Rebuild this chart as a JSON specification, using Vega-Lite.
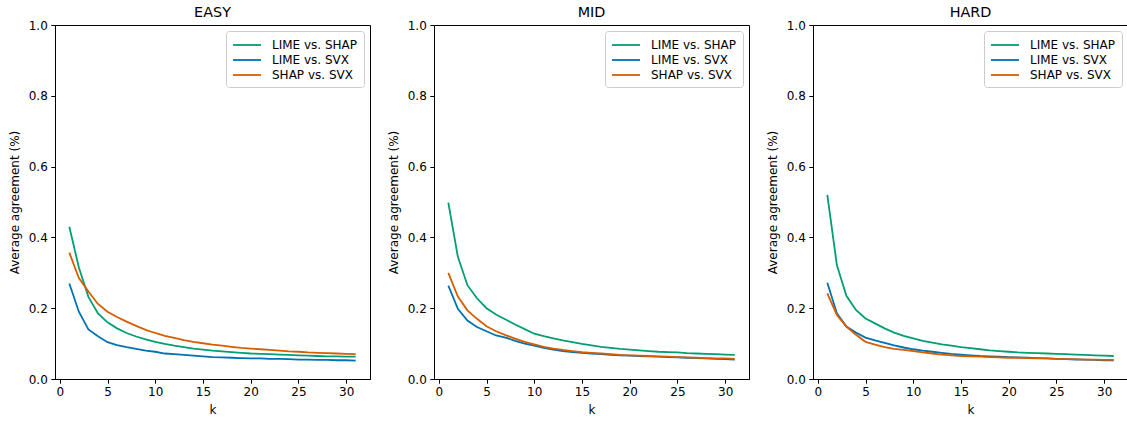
{
  "$schema": "https://vega.github.io/schema/vega-lite/v6.json",
  "padding": {"left": 7, "top": 4, "right": 0, "bottom": 0},
  "config": {
    "font": "DejaVu Sans",
    "view": {"stroke": "black", "strokeWidth": 1},
    "axis": {"grid": false, "domainColor": "black", "domainWidth": 1, "tickColor": "black", "tickWidth": 1, "tickSize": 4.2, "labelPadding": 3.5, "labelFontSize": 12, "labelColor": "black", "labelFont": "DejaVu Sans", "titleFont": "DejaVu Sans", "titleFontSize": 12, "titleFontWeight": "normal", "titleColor": "black"},
    "axisX": {"titlePadding": 7, "titleColor": "black"},
    "axisY": {"titlePadding": 7, "titleColor": "black"},
    "title": {"fontSize": 14.4, "fontWeight": "normal", "font": "DejaVu Sans", "color": "black", "offset": -1},
    "legend": {"orient": "top-right", "offset": 6, "title": null, "symbolType": "M-1,0H3", "symbolSize": 196, "symbolStrokeWidth": 1.8, "labelFontSize": 12, "labelFont": "DejaVu Sans", "labelColor": "black", "labelOffset": 24, "rowPadding": 1, "padding": 6, "fillColor": "white", "strokeColor": "#cccccc", "cornerRadius": 3}
  },
  "data": {"values": [
    {"d":"EASY","k":1,"a":0.43,"b":0.27,"c":0.357},
    {"d":"EASY","k":2,"a":0.315,"b":0.19,"c":0.285},
    {"d":"EASY","k":3,"a":0.232,"b":0.14,"c":0.247},
    {"d":"EASY","k":4,"a":0.185,"b":0.121,"c":0.212},
    {"d":"EASY","k":5,"a":0.16,"b":0.104,"c":0.19},
    {"d":"EASY","k":6,"a":0.143,"b":0.096,"c":0.175},
    {"d":"EASY","k":7,"a":0.13,"b":0.09,"c":0.162},
    {"d":"EASY","k":8,"a":0.12,"b":0.085,"c":0.15},
    {"d":"EASY","k":9,"a":0.112,"b":0.08,"c":0.139},
    {"d":"EASY","k":10,"a":0.105,"b":0.077,"c":0.13},
    {"d":"EASY","k":11,"a":0.099,"b":0.072,"c":0.122},
    {"d":"EASY","k":12,"a":0.094,"b":0.07,"c":0.116},
    {"d":"EASY","k":13,"a":0.09,"b":0.068,"c":0.11},
    {"d":"EASY","k":14,"a":0.086,"b":0.066,"c":0.105},
    {"d":"EASY","k":15,"a":0.083,"b":0.064,"c":0.101},
    {"d":"EASY","k":16,"a":0.08,"b":0.062,"c":0.097},
    {"d":"EASY","k":17,"a":0.078,"b":0.061,"c":0.094},
    {"d":"EASY","k":18,"a":0.076,"b":0.06,"c":0.091},
    {"d":"EASY","k":19,"a":0.074,"b":0.059,"c":0.088},
    {"d":"EASY","k":20,"a":0.072,"b":0.058,"c":0.086},
    {"d":"EASY","k":21,"a":0.071,"b":0.058,"c":0.084},
    {"d":"EASY","k":22,"a":0.07,"b":0.057,"c":0.082},
    {"d":"EASY","k":23,"a":0.069,"b":0.057,"c":0.08},
    {"d":"EASY","k":24,"a":0.068,"b":0.056,"c":0.078},
    {"d":"EASY","k":25,"a":0.067,"b":0.055,"c":0.077},
    {"d":"EASY","k":26,"a":0.066,"b":0.055,"c":0.075},
    {"d":"EASY","k":27,"a":0.065,"b":0.054,"c":0.074},
    {"d":"EASY","k":28,"a":0.064,"b":0.054,"c":0.073},
    {"d":"EASY","k":29,"a":0.064,"b":0.053,"c":0.072},
    {"d":"EASY","k":30,"a":0.063,"b":0.053,"c":0.071},
    {"d":"EASY","k":31,"a":0.063,"b":0.052,"c":0.07},
    {"d":"MID","k":1,"a":0.498,"b":0.264,"c":0.3},
    {"d":"MID","k":2,"a":0.345,"b":0.198,"c":0.233},
    {"d":"MID","k":3,"a":0.265,"b":0.165,"c":0.194},
    {"d":"MID","k":4,"a":0.228,"b":0.147,"c":0.17},
    {"d":"MID","k":5,"a":0.2,"b":0.135,"c":0.149},
    {"d":"MID","k":6,"a":0.182,"b":0.123,"c":0.135},
    {"d":"MID","k":7,"a":0.168,"b":0.117,"c":0.124},
    {"d":"MID","k":8,"a":0.154,"b":0.108,"c":0.114},
    {"d":"MID","k":9,"a":0.141,"b":0.1,"c":0.105},
    {"d":"MID","k":10,"a":0.128,"b":0.094,"c":0.098},
    {"d":"MID","k":11,"a":0.121,"b":0.088,"c":0.091},
    {"d":"MID","k":12,"a":0.115,"b":0.083,"c":0.086},
    {"d":"MID","k":13,"a":0.109,"b":0.079,"c":0.082},
    {"d":"MID","k":14,"a":0.104,"b":0.076,"c":0.079},
    {"d":"MID","k":15,"a":0.099,"b":0.074,"c":0.076},
    {"d":"MID","k":16,"a":0.095,"b":0.072,"c":0.074},
    {"d":"MID","k":17,"a":0.091,"b":0.07,"c":0.072},
    {"d":"MID","k":18,"a":0.088,"b":0.068,"c":0.07},
    {"d":"MID","k":19,"a":0.085,"b":0.067,"c":0.068},
    {"d":"MID","k":20,"a":0.083,"b":0.066,"c":0.067},
    {"d":"MID","k":21,"a":0.081,"b":0.065,"c":0.066},
    {"d":"MID","k":22,"a":0.079,"b":0.064,"c":0.065},
    {"d":"MID","k":23,"a":0.077,"b":0.063,"c":0.064},
    {"d":"MID","k":24,"a":0.076,"b":0.062,"c":0.063},
    {"d":"MID","k":25,"a":0.075,"b":0.061,"c":0.062},
    {"d":"MID","k":26,"a":0.073,"b":0.06,"c":0.061},
    {"d":"MID","k":27,"a":0.072,"b":0.059,"c":0.06},
    {"d":"MID","k":28,"a":0.071,"b":0.058,"c":0.059},
    {"d":"MID","k":29,"a":0.07,"b":0.057,"c":0.058},
    {"d":"MID","k":30,"a":0.069,"b":0.056,"c":0.058},
    {"d":"MID","k":31,"a":0.068,"b":0.055,"c":0.057},
    {"d":"HARD","k":1,"a":0.52,"b":0.272,"c":0.242},
    {"d":"HARD","k":2,"a":0.322,"b":0.186,"c":0.181},
    {"d":"HARD","k":3,"a":0.235,"b":0.148,"c":0.148},
    {"d":"HARD","k":4,"a":0.195,"b":0.131,"c":0.125},
    {"d":"HARD","k":5,"a":0.171,"b":0.117,"c":0.105},
    {"d":"HARD","k":6,"a":0.157,"b":0.109,"c":0.097},
    {"d":"HARD","k":7,"a":0.143,"b":0.102,"c":0.09},
    {"d":"HARD","k":8,"a":0.131,"b":0.095,"c":0.085},
    {"d":"HARD","k":9,"a":0.122,"b":0.089,"c":0.082},
    {"d":"HARD","k":10,"a":0.115,"b":0.084,"c":0.079},
    {"d":"HARD","k":11,"a":0.108,"b":0.08,"c":0.075},
    {"d":"HARD","k":12,"a":0.103,"b":0.077,"c":0.072},
    {"d":"HARD","k":13,"a":0.098,"b":0.074,"c":0.069},
    {"d":"HARD","k":14,"a":0.094,"b":0.071,"c":0.067},
    {"d":"HARD","k":15,"a":0.09,"b":0.069,"c":0.065},
    {"d":"HARD","k":16,"a":0.087,"b":0.067,"c":0.064},
    {"d":"HARD","k":17,"a":0.084,"b":0.065,"c":0.063},
    {"d":"HARD","k":18,"a":0.081,"b":0.064,"c":0.062},
    {"d":"HARD","k":19,"a":0.079,"b":0.063,"c":0.061},
    {"d":"HARD","k":20,"a":0.077,"b":0.062,"c":0.06},
    {"d":"HARD","k":21,"a":0.075,"b":0.061,"c":0.06},
    {"d":"HARD","k":22,"a":0.074,"b":0.06,"c":0.059},
    {"d":"HARD","k":23,"a":0.073,"b":0.059,"c":0.058},
    {"d":"HARD","k":24,"a":0.072,"b":0.058,"c":0.058},
    {"d":"HARD","k":25,"a":0.071,"b":0.057,"c":0.057},
    {"d":"HARD","k":26,"a":0.07,"b":0.056,"c":0.056},
    {"d":"HARD","k":27,"a":0.069,"b":0.055,"c":0.056},
    {"d":"HARD","k":28,"a":0.068,"b":0.055,"c":0.055},
    {"d":"HARD","k":29,"a":0.067,"b":0.054,"c":0.055},
    {"d":"HARD","k":30,"a":0.066,"b":0.053,"c":0.054},
    {"d":"HARD","k":31,"a":0.065,"b":0.053,"c":0.054}
  ]},
  "transform": [{"fold": ["a", "b", "c"], "as": ["pair", "v"]}],
  "spacing": 15,
  "resolve": {"scale": {"color": "independent"}, "legend": {"color": "independent"}},
  "hconcat": [
    {
      "title": "EASY", "width": 315, "height": 354,
      "transform": [{"filter": "datum.d == 'EASY'"}],
      "mark": {"type": "line", "strokeWidth": 1.8, "clip": true},
      "encoding": {
        "x": {"field": "k", "type": "quantitative", "scale": {"domain": [-0.5, 32.5], "nice": false, "zero": false}, "axis": {"values": [0, 5, 10, 15, 20, 25, 30], "title": "k", "titleColor": "black"}},
        "y": {"field": "v", "type": "quantitative", "scale": {"domain": [0, 1], "nice": false}, "axis": {"values": [0, 0.2, 0.4, 0.6, 0.8, 1.0], "format": ".1f", "title": "Average agreement (%)"}},
        "color": {"field": "pair", "type": "nominal", "scale": {"domain": ["a", "b", "c"], "range": ["#009E73", "#0072B2", "#D55E00"]}, "legend": {"labelExpr": "datum.label == 'a' ? 'LIME vs. SHAP' : datum.label == 'b' ? 'LIME vs. SVX' : 'SHAP vs. SVX'"}}
      }
    },
    {
      "title": "MID", "width": 315, "height": 354,
      "transform": [{"filter": "datum.d == 'MID'"}],
      "mark": {"type": "line", "strokeWidth": 1.8, "clip": true},
      "encoding": {
        "x": {"field": "k", "type": "quantitative", "scale": {"domain": [-0.5, 32.5], "nice": false, "zero": false}, "axis": {"values": [0, 5, 10, 15, 20, 25, 30], "title": "k", "titleColor": "black"}},
        "y": {"field": "v", "type": "quantitative", "scale": {"domain": [0, 1], "nice": false}, "axis": {"values": [0, 0.2, 0.4, 0.6, 0.8, 1.0], "format": ".1f", "title": "Average agreement (%)"}},
        "color": {"field": "pair", "type": "nominal", "scale": {"domain": ["a", "b", "c"], "range": ["#009E73", "#0072B2", "#D55E00"]}, "legend": {"labelExpr": "datum.label == 'a' ? 'LIME vs. SHAP' : datum.label == 'b' ? 'LIME vs. SVX' : 'SHAP vs. SVX'"}}
      }
    },
    {
      "title": "HARD", "width": 315, "height": 354,
      "transform": [{"filter": "datum.d == 'HARD'"}],
      "mark": {"type": "line", "strokeWidth": 1.8, "clip": true},
      "encoding": {
        "x": {"field": "k", "type": "quantitative", "scale": {"domain": [-0.5, 32.5], "nice": false, "zero": false}, "axis": {"values": [0, 5, 10, 15, 20, 25, 30], "title": "k", "titleColor": "black"}},
        "y": {"field": "v", "type": "quantitative", "scale": {"domain": [0, 1], "nice": false}, "axis": {"values": [0, 0.2, 0.4, 0.6, 0.8, 1.0], "format": ".1f", "title": "Average agreement (%)"}},
        "color": {"field": "pair", "type": "nominal", "scale": {"domain": ["a", "b", "c"], "range": ["#009E73", "#0072B2", "#D55E00"]}, "legend": {"labelExpr": "datum.label == 'a' ? 'LIME vs. SHAP' : datum.label == 'b' ? 'LIME vs. SVX' : 'SHAP vs. SVX'"}}
      }
    }
  ]
}
